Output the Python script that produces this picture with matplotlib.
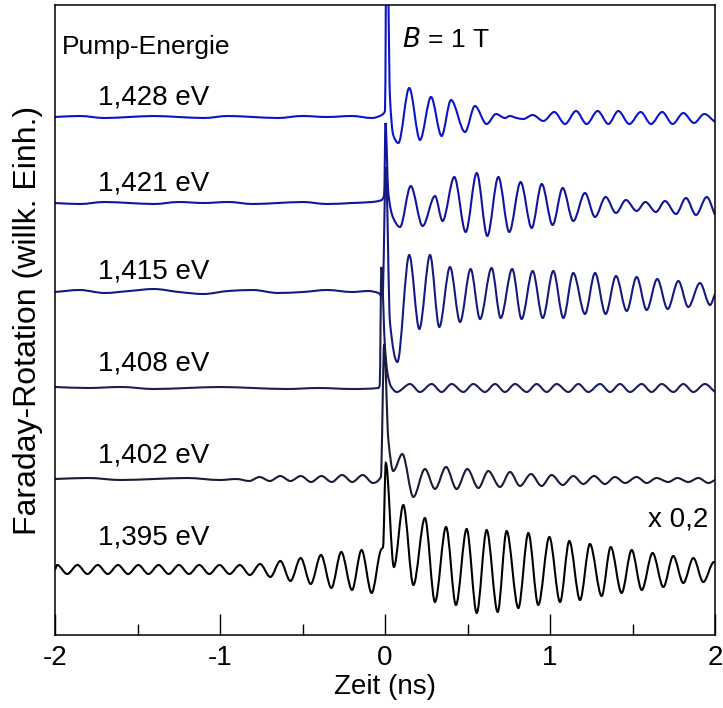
import numpy as np
import matplotlib
matplotlib.use("Agg")
import matplotlib.pyplot as plt
from matplotlib.path import Path
from matplotlib.patches import PathPatch

plt.rcParams['font.family'] = ['Liberation Sans', 'DejaVu Sans']

# energies (labels) and vertical offsets of the traces (arb. units)
labels = ["1,428 eV", "1,421 eV", "1,415 eV", "1,408 eV", "1,402 eV", "1,395 eV"]
offsets = [518, 432, 343, 247, 156, 65]
colors = ["#0a14c8", "#12149e", "#161a80", "#1c1e5a", "#1a1a3a", "#000000"]
label_y = [538, 452, 363, 272, 179, 98]

# points (time in ns, signal relative to offset)
t_1428 = [-2.0, -1.85, -1.7, -1.55, -1.4, -1.25, -1.1, -0.95, -0.8, -0.65, -0.5, -0.35,
          -0.2, -0.08, -0.02, 0.0, 0.01, 0.03, 0.05, 0.081, 0.147, 0.212, 0.279, 0.343,
          0.40, 0.485, 0.545, 0.616, 0.673, 0.727, 0.757, 0.798, 0.838, 0.895, 0.96,
          1.026, 1.091, 1.158, 1.222, 1.289, 1.354, 1.414, 1.481, 1.55, 1.612, 1.68,
          1.743, 1.808, 1.873, 1.935, 2.0]
v_1428 = [0, 1, -1, 0, 1, 0, -1, 1, 0, -1, 1, 0, 1, -1, 2, 6, 230, 20, -18, -26, 29,
          -23, 20, -19, 17, -15, 11, -7, 3, -1, 1, -1, -2, 2, -4, 5, -7, 6, -7, 6, -7,
          6, -7, 5, -7, 5, -7, 4, -6, 3, -5]

t_1421 = [-2.0, -1.85, -1.7, -1.55, -1.4, -1.25, -1.1, -0.95, -0.8, -0.65, -0.5, -0.35,
          -0.2, -0.08, -0.02, -0.005, 0.003, 0.02, 0.05, 0.091, 0.156, 0.228, 0.303,
          0.349, 0.42, 0.489, 0.556, 0.62, 0.687, 0.753, 0.822, 0.889, 0.95, 1.016,
          1.077, 1.141, 1.212, 1.273, 1.337, 1.40, 1.46, 1.525, 1.578, 1.642, 1.697,
          1.764, 1.824, 1.885, 1.95, 2.0]
v_1421 = [0, -1, 1, 0, -1, 1, 0, 1, -1, 0, 1, -1, 0, 1, 3, 8, 80, 10, -15, -24, 17,
          -23, 7, -18, 26, -29, 30, -33, 26, -29, 21, -25, 19, -22, 15, -18, 10, -14,
          6, -10, 3, -8, 1, -9, 2, -11, 5, -12, 6, -12]

t_1415 = [-2.0, -1.85, -1.7, -1.55, -1.4, -1.25, -1.1, -0.95, -0.8, -0.65, -0.5, -0.35,
          -0.2, -0.1, -0.04, -0.015, 0.005, 0.03, 0.075, 0.147, 0.208, 0.273, 0.329,
          0.394, 0.455, 0.519, 0.576, 0.646, 0.701, 0.771, 0.828, 0.895, 0.956, 1.02,
          1.081, 1.141, 1.212, 1.273, 1.337, 1.40, 1.465, 1.525, 1.586, 1.65, 1.713,
          1.778, 1.838, 1.909, 1.97, 2.0]
v_1415 = [0, 2, -1, 1, 3, 0, -2, 1, 2, -1, 0, 2, 0, 1, -1, -5, 125, -30, -70, 37, -37,
          37, -35, 25, -30, 23, -27, 24, -26, 23, -27, 21, -26, 21, -26, 19, -22, 19,
          -22, 16, -19, 15, -18, 13, -17, 11, -15, 9, -13, -2]

t_1408 = [-2.0, -1.8, -1.6, -1.4, -1.2, -1.0, -0.8, -0.6, -0.4, -0.2, -0.04, -0.032,
          -0.022, 0.0, 0.015, 0.035, 0.071, 0.152, 0.212, 0.283, 0.343, 0.404, 0.475,
          0.535, 0.606, 0.667, 0.727, 0.788, 0.859, 0.919, 0.98, 1.04, 1.111, 1.172,
          1.232, 1.303, 1.364, 1.424, 1.485, 1.556, 1.616, 1.677, 1.748, 1.808, 1.869,
          1.939, 2.0]
v_1408 = [1, 0, 1, -1, 0, 1, 0, -1, 0, -1, 0, 3, 121, 40, 15, 2, -4, 4, -4, 4, -4, 4,
          -4, 4, -4, 4, -4, 4, -4, 4, -4, 4, -4, 4, -4, 4, -4, 4, -4, 4, -4, 4, -4, 4,
          -4, 4, -4]

t_1402 = [-2.0, -1.8, -1.6, -1.4, -1.2, -1.0, -0.9, -0.823, -0.76, -0.698, -0.635,
          -0.573, -0.51, -0.448, -0.385, -0.323, -0.26, -0.198, -0.135, -0.073, -0.025,
          -0.005, 0.02, 0.05, 0.105, 0.172, 0.242, 0.303, 0.370, 0.434, 0.499, 0.566,
          0.626, 0.697, 0.758, 0.818, 0.885, 0.949, 1.01, 1.077, 1.141, 1.202, 1.267,
          1.333, 1.394, 1.455, 1.525, 1.586, 1.646, 1.717, 1.772, 1.838, 1.899, 1.96,
          2.0]
v_1402 = [0, 1, -1, 0, 1, -1, 0, -2, 2, -2, 3, -2, 3, -3, 3, -3, 4, -3, 4, -4, 2,
          135, 40, 8, 25, -18, 10, -10, 12, -10, 10, -9, 8, -8, 7, -7, 5, -7, 4, -6,
          3, -5, 3, -5, 2, -4, 2, -4, 1, -3, 1, -3, 1, -4, -1]

t_1395 = [-2.0, -1.987, -1.926, -1.864, -1.803, -1.741, -1.68, -1.618, -1.557, -1.495,
          -1.434, -1.372, -1.311, -1.249, -1.188, -1.126, -1.065, -1.003, -0.942, -0.88,
          -0.819, -0.757, -0.695, -0.634, -0.573, -0.511, -0.45, -0.388, -0.325, -0.265,
          -0.2, -0.142, -0.081, -0.025, -0.012, 0.005, 0.054, 0.111, 0.172, 0.242, 0.303,
          0.370, 0.43, 0.495, 0.556, 0.616, 0.683, 0.737, 0.808, 0.869, 0.929, 0.996,
          1.061, 1.117, 1.182, 1.242, 1.313, 1.368, 1.434, 1.495, 1.556, 1.622, 1.687,
          1.747, 1.808, 1.869, 1.929, 1.994, 2.0]
v_1395 = [0, 5, -4, 5, -4, 5, -4, 5, -4, 5, -4, 5, -4, 5, -4, 5, -4, 5, -4, 5, -5, 6,
          -7, 9, -11, 12, -14, 15, -18, 18, -20, 20, -23, 20, 23, 107, 3, 65, -15, 52,
          -32, 43, -35, 41, -43, 40, -42, 39, -38, 37, -35, 33, -32, 29, -30, 26, -26,
          23, -23, 20, -20, 17, -17, 14, -13, 12, -12, 8, 7]

times = [t_1428, t_1421, t_1415, t_1408, t_1402, t_1395]
values = [v_1428, v_1421, v_1415, v_1408, v_1402, v_1395]


def smooth_path(t, v):
    # monotone cubic (pchip) slopes, drawn as bezier segments
    t = np.asarray(t, float)
    v = np.asarray(v, float)
    h = np.diff(t)
    d = np.diff(v) / h
    m = np.zeros_like(v)
    for k in range(1, len(v) - 1):
        if d[k - 1] * d[k] > 0:
            w1 = 2 * h[k] + h[k - 1]
            w2 = h[k] + 2 * h[k - 1]
            m[k] = (w1 + w2) / (w1 / d[k - 1] + w2 / d[k])
    m[0] = d[0]
    m[-1] = d[-1]
    verts = [(t[0], v[0])]
    codes = [Path.MOVETO]
    for k in range(len(h)):
        verts += [(t[k] + h[k] / 3, v[k] + m[k] * h[k] / 3),
                  (t[k + 1] - h[k] / 3, v[k + 1] - m[k + 1] * h[k] / 3),
                  (t[k + 1], v[k + 1])]
        codes += [Path.CURVE4] * 3
    return Path(verts, codes)


fig = plt.figure(figsize=(7.23, 7.08), dpi=100)
ax = fig.add_axes([55 / 723, 73 / 708, 660 / 723, 630 / 708])

for t, v, off, col, lab, ly in zip(times, values, offsets, colors, labels, label_y):
    p = smooth_path(t, np.asarray(v) + off)
    ax.add_patch(PathPatch(p, fill=False, edgecolor=col, lw=1.5))
    ax.text(-1.74, ly, lab, fontsize=20, va="center", ha="left")

ax.text(-1.958, 588, "Pump-Energie", fontsize=19, va="center", ha="left")
ax.text(0.103, 595, "$B$ = 1 T", fontsize=19, va="center", ha="left")
ax.text(1.958, 115, "x 0,2", fontsize=20, va="center", ha="right")

ax.set_xlim(-2, 2)
ax.set_ylim(0, 630)
ax.set_xticks([-2, -1, 0, 1, 2])
ax.set_xticklabels(["-2", "-1", "0", "1", "2"])
ax.set_xticks([-1.5, -0.5, 0.5, 1.5], minor=True)
ax.set_yticks([])
ax.tick_params(axis="x", which="major", direction="in", length=15, width=1, labelsize=20, pad=7)
ax.tick_params(axis="x", which="minor", direction="in", length=8, width=1)
for s in ax.spines.values():
    s.set_linewidth(1.1)

ax.set_xlabel("Zeit (ns)", fontsize=20)
ax.set_ylabel("Faraday-Rotation (willk. Einh.)", fontsize=23)
ax.xaxis.set_label_coords(0.5, -0.062)
ax.yaxis.set_label_coords(-0.018, 0.5)

fig.savefig("out.png", dpi=100)
